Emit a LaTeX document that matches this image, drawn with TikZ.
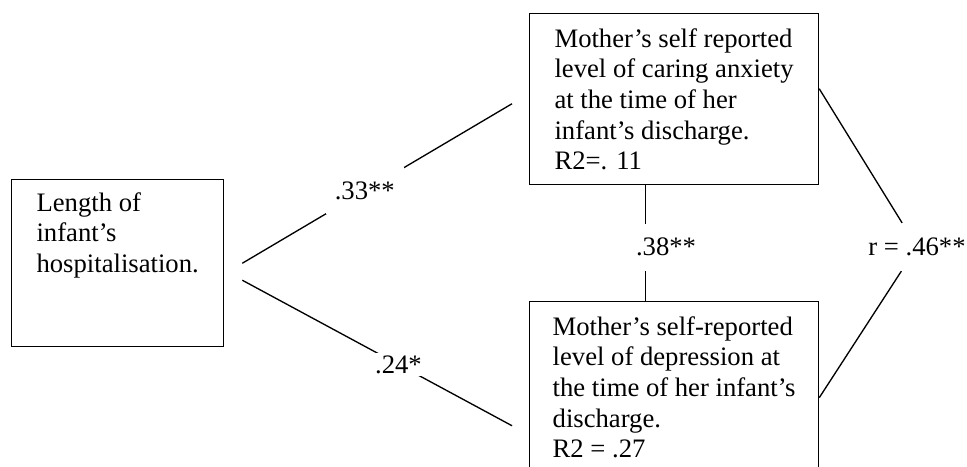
\documentclass[tikz,border=0pt]{standalone}
\usepackage{fontspec}
\setmainfont{Liberation Serif}
\usetikzlibrary{calc,positioning}

\begin{document}
\begin{tikzpicture}[x=0.45pt,y=-0.45pt,line width=0.6pt,
  every node/.style={font=\fontsize{12}{13.8}\selectfont},
  block/.style={draw,rectangle,align=left,anchor=north west,inner sep=0pt},
  coef/.style={fill=white,inner xsep=1.5pt,inner ysep=6.5pt}]

  \clip (0,0) rectangle (967,466);

  \node[block,minimum width=95.4pt,minimum height=75.2pt] (H) at (11,179)
    {Length of\\ infant's\\ hospitalisation.\\ ~\\ ~};
  \node[block,minimum width=130pt,minimum height=77pt] (A) at (529,13)
    {Mother's self reported\\ level of caring anxiety\\ at the time of her\\ infant's discharge.\\ R2=. 11};
  \node[block,minimum width=130pt,minimum height=77pt] (D) at (529,301)
    {Mother's self-reported\\ level of depression at\\ the time of her infant's\\ discharge.\\ R2 = .27};

  \coordinate (h1) at ($(H.east)+(18,0)$);
  \coordinate (h2) at ($(H.east)+(18,17)$);
  \coordinate (a1) at ($(A.west)+(-17,4.5)$);
  \coordinate (d1) at ($(D.west)+(-17,38.5)$);

  \draw (h1) -- node[coef,pos=0.454,inner xsep=4pt] (c33) {.33**} (a1);
  \draw (h2) -- node[coef,pos=0.579,inner ysep=1pt] (c24) {.24*} (d1);

  \draw ($(A.south)+(-28.5,0)$) -- ($(D.north)+(-28.5,0)$);
  \node[coef] (c38) at (666,247) {.38**};

  \node[coef] (r46) at (917,247) {r = .46**};
  \draw ($(A.east)+(0,-10.5)$) -- (r46);
  \draw (r46) -- ($(D.east)+(0,10.5)$);
\end{tikzpicture}
\end{document}
